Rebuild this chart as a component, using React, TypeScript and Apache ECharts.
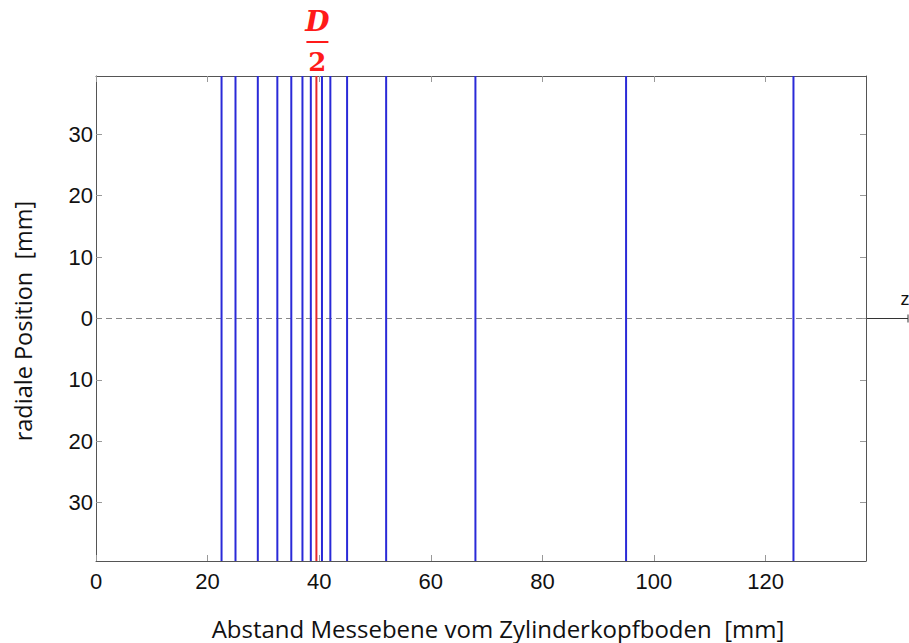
import React, { useEffect, useRef } from "react";
import * as echarts from "echarts";

// Data
const xTicks = [0, 20, 40, 60, 80, 100, 120];
const yTicks = [-30, -20, -10, 0, 10, 20, 30];
const measurementPlanes = [22.5, 25, 29, 32.5, 35, 37, 38.5, 40.5, 42, 45, 52, 68, 95, 125];
const halfDiameter = [39.5];
const xMax = 138;
const yLimit = 39.5;

const tickFont = "'Liberation Sans', Arial, sans-serif";
const nameFont = "'Open Sans', 'Noto Sans', sans-serif";

export default function App() {
  const ref = useRef<HTMLDivElement>(null);

  useEffect(() => {
    document.body.style.margin = "0";
    if (!ref.current) return;
    const chart = echarts.init(ref.current, undefined, { renderer: "svg" });

    const vertical = (x: number, color: string, width: number) => ({
      type: "line",
      data: [
        [x, -yLimit],
        [x, yLimit],
      ],
      showSymbol: false,
      symbol: "none",
      silent: true,
      lineStyle: { color, width },
      z: 3,
    });

    const baseAxis = {
      type: "value",
      splitLine: { show: false },
      axisLine: { show: true, onZero: false, lineStyle: { color: "#555", width: 1 } },
    };

    chart.setOption({
      animation: false,
      backgroundColor: "#fff",
      grid: { left: 96, right: 43, top: 76, bottom: 82, containLabel: false, outerBoundsMode: "none" },
      xAxis: [
        {
          ...baseAxis,
          position: "bottom",
          min: 0,
          max: xMax,
          axisTick: { show: true, inside: true, length: 6, lineStyle: { color: "#999" }, customValues: xTicks },
          axisLabel: {
            customValues: xTicks,
            fontSize: 22,
            color: "#111",
            fontFamily: tickFont,
            margin: 9,
          },
        },
        {
          ...baseAxis,
          position: "top",
          min: 0,
          max: xMax,
          axisTick: { show: true, inside: true, length: 6, lineStyle: { color: "#999" }, customValues: xTicks },
          axisLabel: { show: false },
        },
      ],
      yAxis: [
        {
          ...baseAxis,
          position: "left",
          min: -yLimit,
          max: yLimit,
          axisTick: { show: true, inside: true, length: 6, lineStyle: { color: "#999" }, customValues: yTicks },
          axisLabel: {
            customValues: yTicks,
            fontSize: 22,
            color: "#111",
            fontFamily: tickFont,
            margin: 3,
            formatter: (v: number) => String(Math.abs(v)),
          },
        },
        {
          ...baseAxis,
          position: "right",
          min: -yLimit,
          max: yLimit,
          axisTick: { show: true, inside: true, length: 6, lineStyle: { color: "#999" }, customValues: yTicks },
          axisLabel: { show: false },
        },
      ],
      series: [
        {
          type: "line",
          data: [
            [0, 0],
            [xMax, 0],
          ],
          showSymbol: false,
          symbol: "none",
          silent: true,
          lineStyle: { color: "#888", width: 1, type: [6, 4] },
          z: 2,
        },
        ...measurementPlanes.map((x) => vertical(x, "#2a2ad8", 2)),
        ...halfDiameter.map((x) => vertical(x, "#e8282b", 2)),
      ],
    });

    const zEnd = chart.convertToPixel({ xAxisIndex: 0, yAxisIndex: 0 }, [xMax, 0]) as number[];
    const dTop = chart.convertToPixel({ xAxisIndex: 0, yAxisIndex: 0 }, [halfDiameter[0], yLimit]) as number[];

    chart.setOption({
      graphic: [
        {
          type: "line",
          shape: { x1: zEnd[0] - 10, y1: zEnd[1], x2: zEnd[0] + 42, y2: zEnd[1] },
          style: { stroke: "#333", lineWidth: 1 },
          silent: true,
        },
        {
          type: "line",
          shape: { x1: zEnd[0] + 42, y1: zEnd[1] - 4, x2: zEnd[0] + 42, y2: zEnd[1] + 4 },
          style: { stroke: "#333", lineWidth: 1 },
          silent: true,
        },
        {
          type: "text",
          x: zEnd[0] + 39,
          y: zEnd[1] - 20,
          style: {
            text: "z",
            fontSize: 18,
            fontFamily: tickFont,
            fill: "#111",
            align: "center",
            verticalAlign: "middle",
          },
          silent: true,
        },
        {
          type: "text",
          x: dTop[0] + 1,
          y: dTop[1] - 55,
          style: {
            text: "D",
            fontSize: 28,
            fontWeight: "bold",
            fontStyle: "italic",
            fontFamily: "'DejaVu Serif', 'Liberation Serif', serif",
            fill: "#ff1a1a",
            align: "center",
            verticalAlign: "middle",
          },
          silent: true,
        },
        {
          type: "rect",
          shape: { x: dTop[0] - 10, y: dTop[1] - 35, width: 22, height: 2 },
          style: { fill: "#ff1a1a" },
          silent: true,
        },
        {
          type: "text",
          x: dTop[0] + 1,
          y: dTop[1] - 14,
          style: {
            text: "2",
            fontSize: 26,
            fontWeight: "bold",
            fontFamily: "'DejaVu Serif', 'Liberation Serif', serif",
            fill: "#ff1a1a",
            align: "center",
            verticalAlign: "middle",
          },
          silent: true,
        },
        {
          type: "text",
          x: 23,
          y: 321,
          rotation: Math.PI / 2,
          style: {
            text: "radiale Position  [mm]",
            fontSize: 23.5,
            fontFamily: nameFont,
            fill: "#111",
            align: "center",
            verticalAlign: "middle",
          },
          silent: true,
        },
        {
          type: "text",
          x: 498,
          y: 628,
          style: {
            text: "Abstand Messebene vom Zylinderkopfboden  [mm]",
            fontSize: 24,
            fontFamily: nameFont,
            fill: "#111",
            align: "center",
            verticalAlign: "middle",
          },
          silent: true,
        },
      ],
    });

    return () => chart.dispose();
  }, []);

  return <div ref={ref} style={{ width: 909, height: 643 }} />;
}
